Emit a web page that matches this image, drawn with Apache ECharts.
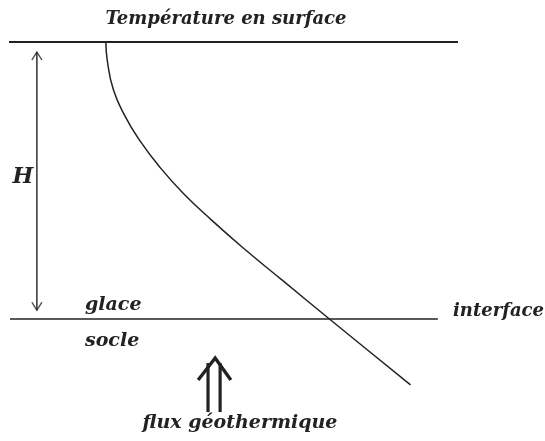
<!DOCTYPE html>
<html><head><meta charset="utf-8">
<script src="https://cdn.jsdelivr.net/npm/echarts@6/dist/echarts.min.js"></script>
<style>html,body{margin:0;padding:0;background:#fff}#c{width:545px;height:441px}</style>
</head><body><div id="c"></div>
<script>
// Normalized depth z/H (0 = surface, 1 = ice/bedrock interface) and temperature (arbitrary units)
const depth = [0, 0.065, 0.173, 0.271, 0.354, 0.451, 0.545, 0.643, 0.751, 0.859, 1.0, 1.112, 1.238];
const temperature = [21.4, 21.7, 23.1, 25.8, 28.9, 33.4, 38.6, 45.0, 52.6, 60.7, 71.3, 79.8, 89.4];

// Reference levels
const surfaceLine = { temp: [-0.4, 100], depth: 0 };
const interfaceLine = { temp: [0, 95.5], depth: 1 };

// Thickness arrow H
const hArrow = { temp: 6.0, depth: [0.036, 0.968] };

// Geothermal flux arrow (double shaft)
const fluxShaftTemps = [44.2, 46.9];
const fluxShaftDepth = [1.159, 1.336];
const fluxHeadTemps = [42.0, 45.8, 49.3];
const fluxHeadDepth = [1.220, 1.141, 1.220];

// Labels
const titleText = 'Température en surface';
const labelH = 'H';
const labelGlace = 'glace';
const labelSocle = 'socle';
const labelInterface = 'interface';
const labelFlux = 'flux géothermique';

const ink = '#222';
const font = (s) => 'italic bold ' + s + 'px "DejaVu Serif"';

const pairs = (xs, ys) => xs.map((x, i) => [x, Array.isArray(ys) ? ys[i] : ys]);

const chart = echarts.init(document.getElementById('c'), null, { renderer: 'canvas' });
const lineBase = { type: 'line', showSymbol: false, symbol: 'none', clip: false, silent: true, animation: false };

chart.setOption({
  backgroundColor: '#fff',
  animation: false,
  grid: { left: 10, width: 448, top: 42, height: 277 },
  xAxis: { type: 'value', min: 0, max: 100, show: false },
  yAxis: { type: 'value', min: 0, max: 1, inverse: true, show: false },
  series: [
    Object.assign({}, lineBase, { data: pairs(surfaceLine.temp, surfaceLine.depth), lineStyle: { color: ink, width: 2 } }),
    Object.assign({}, lineBase, { data: pairs(interfaceLine.temp, interfaceLine.depth), lineStyle: { color: ink, width: 1.6 } }),
    Object.assign({}, lineBase, { data: pairs(temperature, depth), smooth: 0.5, lineStyle: { color: ink, width: 1.5 } }),
    Object.assign({}, lineBase, { data: [[hArrow.temp, hArrow.depth[0]], [hArrow.temp, hArrow.depth[1]]], lineStyle: { color: ink, width: 1.4 } }),
    {
      type: 'scatter', silent: true, clip: false, animation: false,
      symbol: 'path://M0,8 L5,0 L10,8', symbolSize: [10, 8], symbolOffset: [0, '50%'],
      itemStyle: { color: 'transparent', borderColor: ink, borderWidth: 1.3 },
      data: [[hArrow.temp, hArrow.depth[0]]]
    },
    {
      type: 'scatter', silent: true, clip: false, animation: false,
      symbol: 'path://M0,0 L5,8 L10,0', symbolSize: [10, 8], symbolOffset: [0, '-50%'],
      itemStyle: { color: 'transparent', borderColor: ink, borderWidth: 1.3 },
      data: [[hArrow.temp, hArrow.depth[1]]]
    },
    Object.assign({}, lineBase, { data: pairs([fluxShaftTemps[0], fluxShaftTemps[0]], fluxShaftDepth), lineStyle: { color: ink, width: 3.2 } }),
    Object.assign({}, lineBase, { data: pairs([fluxShaftTemps[1], fluxShaftTemps[1]], fluxShaftDepth), lineStyle: { color: ink, width: 3.2 } }),
    Object.assign({}, lineBase, { data: pairs(fluxHeadTemps, fluxHeadDepth), lineStyle: { color: ink, width: 3.4, join: 'miter' } })
  ],
  graphic: [
    { type: 'text', silent: true, style: { text: titleText, x: 226, y: 19, font: font(18), fill: ink, align: 'center', verticalAlign: 'middle' } },
    { type: 'text', silent: true, style: { text: labelH, x: 23, y: 177, font: font(22), fill: ink, align: 'center', verticalAlign: 'middle' } },
    { type: 'text', silent: true, style: { text: labelGlace, x: 85, y: 305, font: font(19), fill: ink, align: 'left', verticalAlign: 'middle' } },
    { type: 'text', silent: true, style: { text: labelSocle, x: 85, y: 341, font: font(19), fill: ink, align: 'left', verticalAlign: 'middle' } },
    { type: 'text', silent: true, style: { text: labelInterface, x: 453, y: 311, font: font(18), fill: ink, align: 'left', verticalAlign: 'middle' } },
    { type: 'text', silent: true, style: { text: labelFlux, x: 240, y: 423, font: font(19), fill: ink, align: 'center', verticalAlign: 'middle' } }
  ]
});
</script>
</body></html>
